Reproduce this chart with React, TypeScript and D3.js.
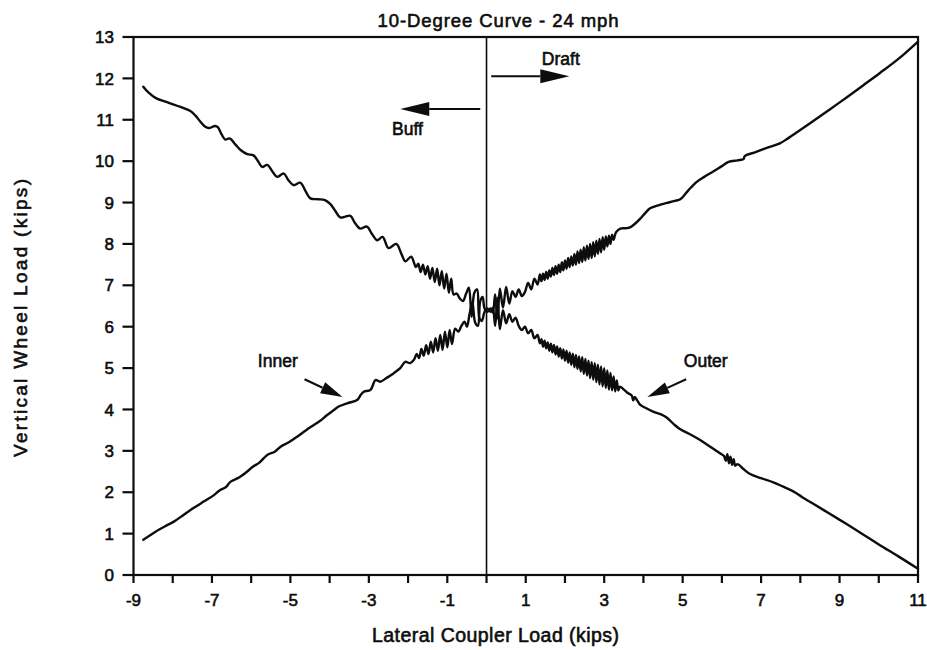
import React from "react";
import * as d3 from "d3";

// Vertical wheel load vs. lateral coupler load, 10-degree curve at 24 mph.
// Each point is [lateral coupler load (kips), vertical wheel load (kips)].

const innerLoad: [number, number][] = [
  [-8.75, 0.85], [-8.45, 1.04], [-8.15, 1.2], [-7.97, 1.29], [-7.7, 1.47], [-7.45, 1.63],
  [-7.2, 1.78], [-6.95, 1.93], [-6.8, 2.05], [-6.65, 2.12], [-6.53, 2.25], [-6.3, 2.36],
  [-6.1, 2.5], [-5.95, 2.62], [-5.8, 2.71], [-5.59, 2.9], [-5.4, 2.98], [-5.25, 3.1],
  [-5.05, 3.2], [-4.83, 3.34], [-4.6, 3.5], [-4.41, 3.62], [-4.25, 3.72], [-4.07, 3.86],
  [-3.9, 3.98], [-3.77, 4.07], [-3.55, 4.15], [-3.3, 4.23], [-3.2, 4.36], [-3.13, 4.43],
  [-2.96, 4.47], [-2.83, 4.71], [-2.71, 4.67], [-2.55, 4.76], [-2.4, 4.85], [-2.32, 4.91],
  [-2.2, 5.0], [-2.07, 5.15], [-1.95, 5.12], [-1.85, 5.2],
  [-1.78, 5.34], [-1.72, 5.24], [-1.66, 5.46], [-1.6, 5.3], [-1.54, 5.55], [-1.48, 5.34],
  [-1.42, 5.64], [-1.36, 5.38], [-1.3, 5.72], [-1.24, 5.42], [-1.18, 5.8], [-1.12, 5.44],
  [-1.06, 5.88], [-1.0, 5.5], [-0.94, 5.92], [-0.88, 5.58], [-0.8, 5.95], [-0.72, 5.88],
  [-0.64, 6.02], [-0.56, 6.12], [-0.5, 6.0], [-0.43, 6.32], [-0.36, 6.58], [-0.29, 6.1],
  [-0.22, 6.02], [-0.16, 6.62], [-0.1, 6.72], [-0.05, 6.44], [0.02, 6.36], [0.1, 6.44],
  [0.16, 6.34], [0.22, 6.78], [0.28, 6.2], [0.34, 6.92], [0.42, 6.46], [0.5, 6.96],
  [0.58, 6.56], [0.66, 6.86], [0.74, 6.72], [0.82, 6.9], [0.9, 6.74], [0.98, 6.84],
  [1.06, 7.06], [1.14, 6.9], [1.22, 7.16], [1.3, 7.02], [1.36, 7.26],
  [1.4, 7.1], [1.44, 7.28], [1.48, 7.13], [1.52, 7.32], [1.56, 7.16], [1.6, 7.36],
  [1.64, 7.21], [1.68, 7.42], [1.72, 7.25], [1.76, 7.46], [1.8, 7.28], [1.84, 7.5],
  [1.88, 7.32], [1.92, 7.56], [1.96, 7.36], [2.0, 7.6], [2.04, 7.4], [2.08, 7.66],
  [2.12, 7.44], [2.16, 7.7], [2.2, 7.48], [2.24, 7.76], [2.28, 7.5], [2.32, 7.82],
  [2.36, 7.54], [2.4, 7.86], [2.44, 7.56], [2.48, 7.92], [2.52, 7.6], [2.56, 7.96],
  [2.6, 7.64], [2.64, 8.0], [2.68, 7.66], [2.72, 8.04], [2.76, 7.7], [2.8, 8.08],
  [2.84, 7.76], [2.88, 8.12], [2.92, 7.8], [2.96, 8.16], [3.0, 7.86], [3.04, 8.18],
  [3.08, 7.94], [3.12, 8.2], [3.16, 8.0], [3.2, 8.22], [3.24, 8.1],
  [3.3, 8.28], [3.41, 8.37], [3.55, 8.38], [3.66, 8.4], [3.8, 8.5], [3.92, 8.61],
  [4.05, 8.75], [4.17, 8.86], [4.4, 8.94], [4.6, 8.99], [4.8, 9.04], [4.94, 9.08],
  [5.15, 9.3], [5.36, 9.5], [5.55, 9.62], [5.78, 9.75], [6.0, 9.88], [6.17, 9.98],
  [6.4, 10.02], [6.55, 10.05], [6.58, 10.12], [6.63, 10.15], [6.8, 10.2], [6.97, 10.26],
  [7.2, 10.34], [7.48, 10.43], [7.65, 10.53], [7.82, 10.64], [8.1, 10.82], [8.33, 10.97],
  [8.75, 11.25], [9.18, 11.54], [9.6, 11.83], [10.03, 12.13], [10.5, 12.47], [11.0, 12.89],
];

const outerLoad: [number, number][] = [
  [-8.75, 11.8], [-8.62, 11.66], [-8.44, 11.53], [-8.1, 11.41], [-7.8, 11.31], [-7.55, 11.21],
  [-7.42, 11.1], [-7.3, 10.96], [-7.18, 10.84], [-7.08, 10.8], [-6.92, 10.85], [-6.85, 10.82],
  [-6.75, 10.64], [-6.66, 10.52], [-6.55, 10.55], [-6.4, 10.4], [-6.27, 10.27], [-6.1, 10.17],
  [-5.94, 10.14], [-5.82, 9.99], [-5.72, 9.86], [-5.59, 9.91], [-5.45, 9.74], [-5.34, 9.62],
  [-5.17, 9.7], [-5.05, 9.54], [-4.92, 9.42], [-4.75, 9.48], [-4.6, 9.25], [-4.49, 9.1],
  [-4.3, 9.08], [-4.12, 9.06], [-3.98, 8.96], [-3.85, 8.79], [-3.73, 8.64], [-3.6, 8.66],
  [-3.47, 8.68], [-3.35, 8.5], [-3.22, 8.37], [-3.05, 8.42], [-2.92, 8.24], [-2.79, 8.09],
  [-2.65, 8.17], [-2.5, 7.9], [-2.3, 8.0], [-2.17, 7.76], [-2.07, 7.58], [-1.92, 7.69],
  [-1.8, 7.44],
  [-1.74, 7.52], [-1.68, 7.32], [-1.62, 7.5], [-1.56, 7.26], [-1.5, 7.46], [-1.44, 7.16],
  [-1.38, 7.42], [-1.32, 7.08], [-1.26, 7.4], [-1.2, 7.0], [-1.14, 7.34], [-1.08, 6.92],
  [-1.02, 7.28], [-0.96, 6.82], [-0.9, 7.16], [-0.84, 6.78], [-0.76, 6.8], [-0.68, 6.68],
  [-0.6, 6.62], [-0.52, 6.8], [-0.45, 6.94], [-0.38, 6.24], [-0.31, 6.82], [-0.24, 6.9],
  [-0.18, 6.2], [-0.12, 6.14], [-0.05, 6.36], [0.02, 6.44], [0.1, 6.36], [0.16, 6.46],
  [0.22, 6.02], [0.28, 6.7], [0.34, 5.94], [0.42, 6.4], [0.5, 6.08], [0.58, 6.3],
  [0.66, 6.12], [0.74, 6.22], [0.82, 6.02], [0.9, 5.92], [0.98, 6.0], [1.06, 5.84],
  [1.14, 5.92], [1.22, 5.72], [1.3, 5.8], [1.36, 5.6],
  [1.4, 5.7], [1.44, 5.52], [1.48, 5.66], [1.52, 5.48], [1.56, 5.62], [1.6, 5.42],
  [1.64, 5.59], [1.68, 5.38], [1.72, 5.56], [1.76, 5.33], [1.8, 5.52], [1.84, 5.28],
  [1.88, 5.48], [1.92, 5.23], [1.96, 5.45], [2.0, 5.18], [2.04, 5.42], [2.08, 5.13],
  [2.12, 5.38], [2.16, 5.08], [2.2, 5.35], [2.24, 5.02], [2.28, 5.32], [2.32, 4.98],
  [2.36, 5.28], [2.4, 4.92], [2.44, 5.26], [2.48, 4.86], [2.52, 5.22], [2.56, 4.82],
  [2.6, 5.18], [2.64, 4.76], [2.68, 5.14], [2.72, 4.72], [2.76, 5.12], [2.8, 4.66],
  [2.84, 5.08], [2.88, 4.6], [2.92, 5.04], [2.96, 4.56], [3.0, 5.0], [3.04, 4.52],
  [3.08, 4.94], [3.12, 4.48], [3.16, 4.88], [3.2, 4.46], [3.24, 4.8], [3.28, 4.44],
  [3.32, 4.7], [3.36, 4.46], [3.4, 4.55],
  [3.5, 4.48], [3.6, 4.4], [3.7, 4.34], [3.74, 4.22], [3.78, 4.3], [3.84, 4.22],
  [3.92, 4.11], [4.05, 4.04], [4.26, 3.94], [4.45, 3.88], [4.6, 3.8], [4.78, 3.64],
  [4.94, 3.52], [5.15, 3.42], [5.36, 3.31], [5.58, 3.18], [5.78, 3.05], [5.95, 2.94],
  [6.05, 2.88], [6.1, 2.76], [6.14, 2.92], [6.18, 2.7], [6.22, 2.86], [6.26, 2.66],
  [6.3, 2.8], [6.34, 2.64], [6.4, 2.68], [6.55, 2.56], [6.72, 2.44], [7.0, 2.34],
  [7.31, 2.24], [7.55, 2.14], [7.82, 2.02], [8.05, 1.88], [8.33, 1.72], [8.75, 1.48],
  [9.18, 1.23], [9.6, 0.98], [10.03, 0.72], [10.5, 0.45], [11.0, 0.15],
];

const xTickValues = [-9, -8, -7, -6, -5, -4, -3, -2, -1, 0, 1, 2, 3, 4, 5, 6, 7, 8, 9, 10, 11];
const xTickLabels = [-9, -7, -5, -3, -1, 1, 3, 5, 7, 9, 11];
const yTickValues = [0, 1, 2, 3, 4, 5, 6, 7, 8, 9, 10, 11, 12, 13];

// Direction arrows and series callouts, in data units: [fromX, fromY, toX, toY]
const arrowNames = ["Draft", "Buff", "Inner", "Outer"];
const arrowLines: [number, number, number, number][] = [
  [0.12, 12.05, 2.11, 12.05],
  [-0.16, 11.26, -2.2, 11.26],
  [-4.64, 4.73, -3.67, 4.3],
  [5.09, 4.73, 4.1, 4.3],
];
const labelSpots: [number, number][] = [
  [1.41, 12.32],
  [-2.41, 10.63],
  [-5.83, 5.03],
  [5.03, 5.03],
];

const W = 927;
const H = 650;
const FONT = "'Liberation Sans', Arial, Helvetica, sans-serif";
const INK = "#0d0d0d";

export default function App() {
  const x = d3.scaleLinear().domain([-9, 11]).range([133.5, 918]);
  const y = d3.scaleLinear().domain([0, 13]).range([575, 37]);
  const line = d3
    .line<[number, number]>()
    .x((d) => x(d[0]))
    .y((d) => y(d[1]))
    .curve(d3.curveCatmullRom.alpha(0.5));

  const textStyle = { fontFamily: FONT, fill: INK, stroke: INK, strokeWidth: 0.6 };

  const arrows = arrowLines.map(([x1, y1, x2, y2], i) => {
    const px1 = x(x1), py1 = y(y1), px2 = x(x2), py2 = y(y2);
    const big = i < 2;
    const headLen = big ? 29 : 22;
    const half = big ? 7 : 6;
    const dx = px2 - px1, dy = py2 - py1;
    const len = Math.hypot(dx, dy);
    const ux = dx / len, uy = dy / len;
    const bx = px2 - ux * headLen, by = py2 - uy * headLen;
    const head = `M${px2},${py2}L${bx - uy * half},${by + ux * half}L${bx + uy * half},${by - ux * half}Z`;
    return (
      <g key={arrowNames[i]}>
        <line x1={px1} y1={py1} x2={bx} y2={by} stroke={INK} strokeWidth={2} />
        <path d={head} fill={INK} />
      </g>
    );
  });

  return (
    <svg
      width={W}
      height={H}
      viewBox={`0 0 ${W} ${H}`}
      style={{ position: "absolute", left: 0, top: 0, background: "#fff" }}
    >
      <rect x={0} y={0} width={W} height={H} fill="#fff" />

      {/* title */}
      <text x={498} y={27} textAnchor="middle" fontSize={18.5} textLength={241} lengthAdjust="spacing" style={textStyle}>
        10-Degree Curve - 24 mph
      </text>

      {/* frame */}
      <rect x={x(-9)} y={y(13)} width={x(11) - x(-9)} height={y(0) - y(13)} fill="none" stroke={INK} strokeWidth={2.2} />

      {/* zero load divider */}
      <line x1={x(0)} x2={x(0)} y1={y(13)} y2={y(0)} stroke={INK} strokeWidth={1.6} />

      {/* y axis */}
      {yTickValues.map((v) => (
        <g key={`y${v}`}>
          <line x1={x(-9) - 11} x2={x(-9)} y1={y(v)} y2={y(v)} stroke={INK} strokeWidth={2.2} />
          <text x={114} y={y(v)} dy="0.36em" textAnchor="end" fontSize={17} style={textStyle}>
            {v}
          </text>
        </g>
      ))}

      {/* x axis */}
      {xTickValues.map((v) => (
        <line key={`xt${v}`} x1={x(v)} x2={x(v)} y1={y(0)} y2={y(0) + 8} stroke={INK} strokeWidth={2.2} />
      ))}
      {xTickLabels.map((v) => (
        <text key={`xl${v}`} x={x(v)} y={606} textAnchor="middle" fontSize={17} style={textStyle}>
          {v}
        </text>
      ))}

      {/* axis titles */}
      <text x={495.5} y={642} textAnchor="middle" fontSize={19.5} textLength={247} lengthAdjust="spacing" style={textStyle}>
        Lateral Coupler Load (kips)
      </text>
      <text
        transform="translate(27,318) rotate(-90)"
        textAnchor="middle"
        fontSize={19}
        textLength={278}
        lengthAdjust="spacing"
        style={textStyle}
      >
        Vertical Wheel Load (kips)
      </text>

      {/* load traces */}
      <path d={line(innerLoad) ?? ""} fill="none" stroke={INK} strokeWidth={2.4} strokeLinejoin="round" strokeLinecap="round" />
      <path d={line(outerLoad) ?? ""} fill="none" stroke={INK} strokeWidth={2.4} strokeLinejoin="round" strokeLinecap="round" />

      {/* annotations */}
      {arrows}
      {labelSpots.map(([lx, ly], i) => (
        <text key={`lab${i}`} x={x(lx)} y={y(ly)} fontSize={17.5} style={textStyle}>
          {arrowNames[i]}
        </text>
      ))}
    </svg>
  );
}
